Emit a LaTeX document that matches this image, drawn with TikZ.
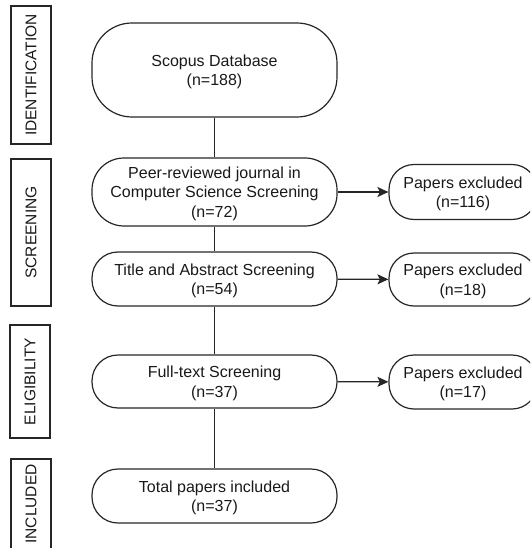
\documentclass[tikz,border=0pt]{standalone}
\usepackage{fontspec}
\setmainfont{Liberation Sans}
\usetikzlibrary{arrows.meta}
\begin{document}
\begin{tikzpicture}[x=1pt,y=-1pt,
  flow/.style={draw=black!85, line width=1.2pt, align=center, inner sep=0pt,
    font=\fontsize{16}{19.5}\selectfont, text=black!90, text depth=0pt},
  mainbox/.style={flow, minimum width=245pt},
  exbox/.style={flow, minimum width=148pt},
  phase/.style={draw=black!85, line width=1.2pt, rotate=90, inner sep=0pt,
    minimum height=40pt, font=\fontsize{15.5}{18}\selectfont, text=black!90},
  link/.style={draw=black!85, line width=1.2pt},
  arr/.style={link, -{Stealth[length=11pt,width=10pt,inset=2.5pt]}}
]
\useasboundingbox (0,0) rectangle (530,548);
\clip (0,0) rectangle (530,548);

% phase labels
\node[phase, minimum width=138pt] (ident) at (31,75) {IDENTIFICATION};
\node[phase, minimum width=147pt] (screen) at (31,232.5) {SCREENING};
\node[phase, minimum width=113pt] (elig) at (30,381.5) {ELIGIBILITY};
\node[phase, minimum width=90pt] (incl) at (31,504) {INCLUDED};

% main flow
\node[mainbox, minimum height=94pt, rounded corners=40pt] (scopus) at (214.5,70) {Scopus Database\\(n=188)};
\node[mainbox, minimum height=68pt, rounded corners=32pt] (peer) at (214.5,192) {Peer-reviewed journal in\\Computer Science Screening\\(n=72)};
\node[mainbox, minimum height=54pt, rounded corners=26pt] (title) at (214.5,279) {Title and Abstract Screening\\(n=54)};
\node[mainbox, minimum height=53pt, rounded corners=26pt] (full) at (214.5,381.5) {Full-text Screening\\(n=37)};
\node[mainbox, minimum height=54pt, rounded corners=26pt] (total) at (214.5,496) {Total papers included\\(n=37)};

% excluded
\node[exbox, minimum height=55pt, rounded corners=25pt] (ex1) at (463,192) {Papers excluded\\(n=116)};
\node[exbox, minimum height=53pt, rounded corners=25pt] (ex2) at (463,279.5) {Papers excluded\\(n=18)};
\node[exbox, minimum height=54pt, rounded corners=25pt] (ex3) at (463,382) {Papers excluded\\(n=17)};

% connectors
\draw[link] (scopus) -- (peer);
\draw[link] (peer) -- (title);
\draw[link] (title) -- (full);
\draw[link] (full) -- (total);
\draw[arr] (peer) -- (ex1);
\draw[arr] (title) -- (ex2);
\draw[arr] (full) -- (ex3);
\end{tikzpicture}
\end{document}
